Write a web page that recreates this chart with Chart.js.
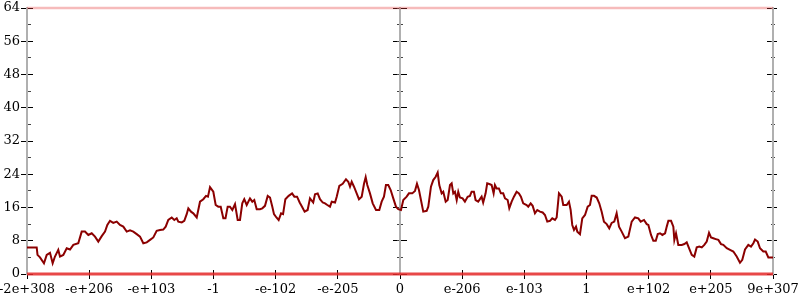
<!DOCTYPE html>
<html><head><meta charset="utf-8">
<script src="https://cdn.jsdelivr.net/npm/chart.js@4.4.0/dist/chart.umd.min.js"></script>
<style>html,body{margin:0;padding:0;background:#fff}#wrap{width:800px;height:300px}</style>
</head><body><div id="wrap"><canvas id="c" width="800" height="300" style="width:800px;height:300px"></canvas></div>
<script>
const xTickLabels = ['-2e+308','-e+206','-e+103','-1','-e-102','-e-205','0','e-206','e-103','1','e+102','e+205','9e+307'];
const xRange = [0, 1200];
const yRange = [0, 64];
const boundaryValues = [0, 64];
const seriesX = [0,15.6,16.9,20.9,27.3,31.7,37.0,41.3,45.0,50.3,53.1,58.4,63.9,69.2,74.5,82.5,88.0,93.3,98.6,104.1,109.4,114.7,120.2,125.5,129.2,133.5,138.8,144.3,149.6,154.9,160.4,165.7,171.0,176.5,181.8,187.1,192.6,197.9,203.2,208.6,213.9,219.2,223.1,227.3,232.8,237.0,240.8,243.4,248.9,253.0,256.9,259.5,263.8,267.5,273.0,278.3,283.6,287.9,291.1,294.4,299.7,303.5,307.7,311.6,315.8,319.3,322.8,326.5,330.3,334.6,338.9,342.6,346.3,349.5,353.4,358.7,362.4,365.6,369.5,374.8,378.5,382.8,387.2,390.9,394.6,397.3,401.2,404.8,408.7,411.9,415.6,420.9,426.4,430.1,434.4,438.6,442.4,446.6,451.4,455.2,460.4,463.3,467.6,471.3,475.7,479.4,483.1,487.4,490.2,495.5,498.2,502.4,507.8,513.1,516.8,519.6,522.3,526.0,530.3,534.0,538.4,542.1,544.8,547.4,551.7,556.1,561.4,566.7,570.5,574.2,577.4,581.1,585.0,589.2,593.5,597.2,601.6,605.3,610.7,614.4,619.7,624.1,627.3,630.5,633.7,637.4,642.9,645.5,649.8,653.5,657.4,660.6,663.2,667.0,669.6,673.5,676.7,680.4,683.1,685.7,688.4,691.2,693.7,696.4,700.7,704.4,708.8,712.5,715.2,718.9,721.6,725.8,731.3,733.8,737.7,740.3,744.6,747.4,750.6,752.7,755.4,759.1,762.3,766.0,768.9,773.2,775.8,779.6,783.3,787.6,791.3,794.5,798.2,803.7,806.3,810.2,813.4,817.1,820.8,825.1,829.5,833.2,836.9,841.3,844.9,849.3,852.0,855.7,860.1,862.6,868.1,871.8,874.5,877.1,879.9,883.1,885.2,889.5,893.2,897.6,901.9,905.6,908.3,912.0,916.4,920.5,924.4,928.1,932.5,936.6,940.5,944.7,948.5,952.3,956.6,961.9,967.3,972.7,978.0,983.3,987.2,992.5,996.9,999.5,1003.8,1007.5,1011.4,1014.6,1018.3,1022.0,1026.4,1029.1,1031.7,1036.0,1039.7,1041.3,1044.0,1047.7,1053.2,1057.4,1061.2,1064.9,1069.3,1073.4,1077.3,1081.5,1085.4,1089.5,1093.4,1097.1,1100.3,1104.0,1107.9,1112.1,1116.4,1120.1,1125.6,1130.9,1136.2,1141.6,1146.9,1150.6,1155.0,1160.3,1164.6,1168.4,1171.1,1175.4,1179.1,1184.4,1188.3,1192.5,1200];
const seriesY = [6.4,6.4,4.6,4.0,2.6,4.6,5.1,2.6,4.2,5.8,4.2,4.6,6.2,5.9,7.0,7.4,10.2,10.2,9.4,9.8,9.0,7.8,9.1,10.2,11.8,12.8,12.3,12.6,11.8,11.4,10.2,10.5,10.2,9.6,9.0,7.4,7.6,8.2,8.8,10.4,10.6,10.7,11.4,13.0,13.6,13.0,13.4,12.6,12.4,12.8,14.4,15.8,15.0,14.6,13.6,17.4,18.0,18.8,18.6,20.9,19.8,16.6,16.2,16.2,13.4,13.4,16.2,16.2,15.4,16.8,13.0,13.0,17.0,18.0,16.6,18.2,17.4,17.8,15.6,15.6,15.8,16.4,18.8,18.4,16.2,14.4,13.6,13.0,14.6,14.4,18.0,18.8,19.4,18.6,18.6,17.2,16.2,15.0,15.4,18.2,17.2,19.2,19.4,18.0,17.2,17.0,16.6,16.2,17.4,17.2,18.6,21.2,21.7,22.8,22.2,21.0,22.2,21.0,19.4,18.0,18.6,21.7,23.3,21.4,19.4,17.0,15.4,15.4,17.4,18.6,21.4,21.4,20.2,18.2,16.2,15.6,15.4,17.8,18.6,19.4,19.4,20.0,21.7,20.2,17.8,15.0,15.2,16.2,21.0,22.6,23.4,24.4,21.4,19.4,19.8,17.4,17.8,21.4,21.8,19.4,19.8,17.8,19.8,18.4,18.2,17.4,18.6,18.8,19.8,19.8,17.8,17.4,18.6,17.2,19.4,21.8,21.6,21.4,19.4,21.4,20.6,20.6,19.4,19.4,18.2,17.8,15.8,17.4,18.6,19.8,19.4,18.6,17.0,16.6,16.2,17.0,16.4,14.6,15.4,15.0,14.8,14.2,12.6,12.8,13.4,13.0,13.6,19.4,18.6,16.6,16.6,17.4,15.4,11.8,10.6,11.4,10.2,9.6,13.4,14.2,16.2,16.6,18.8,18.8,18.4,17.0,15.0,12.6,12.0,11.0,12.3,12.6,14.6,11.4,10.2,8.6,9.0,12.6,13.6,13.4,12.6,13.0,12.0,11.8,9.4,8.0,8.0,9.6,9.8,9.4,9.8,11.4,12.8,12.8,11.4,8.2,9.8,7.0,7.0,7.2,7.6,6.2,4.6,4.2,6.4,6.6,6.4,7.0,7.8,9.9,8.8,8.6,8.4,8.2,7.2,7.0,6.2,5.8,5.4,4.2,2.7,3.4,5.9,7.0,6.6,7.4,8.3,7.8,6.2,5.4,5.4,4.0,4.0];

const n = Math.min(seriesX.length, seriesY.length);
const linePoints = [];
for (let i = 0; i < n; i++) linePoints.push({x: seriesX[i], y: seriesY[i]});
const bottomLine = [{x: xRange[0], y: boundaryValues[0]}, {x: xRange[1], y: boundaryValues[0]}];
const topLine = [{x: xRange[0], y: boundaryValues[1]}, {x: xRange[1], y: boundaryValues[1]}];

const FONT = {family: "'DejaVu Serif', 'Liberation Serif', serif", size: 13};
function zeroPad(s){ s.paddingLeft = 0; s.paddingRight = 0; s.paddingTop = 0; s.paddingBottom = 0; }

function yTicks(pos, step, len, color, borderShow, z) {
  return {
    type: 'linear', position: pos, min: yRange[0], max: yRange[1], z: z || 0,
    ticks: {display: false, stepSize: step},
    grid: {display: true, drawOnChartArea: false, drawTicks: true, tickLength: len, tickColor: color, tickWidth: 1},
    border: {display: borderShow, color: '#b0b0b0', width: 2},
    afterFit: zeroPad
  };
}

const scales = {
  x: {
    type: 'linear', position: 'bottom', min: xRange[0], max: xRange[1], z: 1,
    ticks: {stepSize: 100, autoSkip: false, maxRotation: 0, color: '#000', font: FONT, padding: 3,
      callback: v => xTickLabels[Math.round(v / 100)] ?? ''},
    grid: {display: true, drawOnChartArea: false, drawTicks: true, tickLength: 5, tickColor: '#000', tickWidth: 1},
    border: {display: false},
    afterFit: s => { s.height = 26; zeroPad(s); }
  },
  xIn: {
    type: 'linear', position: {y: 0}, min: xRange[0], max: xRange[1], z: 1,
    ticks: {display: false, stepSize: 100},
    grid: {display: true, drawOnChartArea: false, drawTicks: true, tickLength: -4, tickColor: '#000', tickWidth: 1},
    border: {display: false},
    afterFit: zeroPad
  },
  y: {
    type: 'linear', position: 'left', min: yRange[0], max: yRange[1],
    ticks: {stepSize: 8, color: '#000', font: FONT, padding: 1},
    grid: {display: true, drawOnChartArea: false, drawTicks: true, tickLength: 6, tickColor: '#000', tickWidth: 1},
    border: {display: true, color: '#b0b0b0', width: 2},
    afterFit: s => { s.width = 27; zeroPad(s); }
  },
  yLmin: yTicks({x: xRange[0]}, 4, -4, '#444', false, 1),
  yLin: yTicks({x: xRange[0]}, 8, -6, '#000', false, 1),
  yMid: yTicks({x: 600}, 8, 6, '#000', true, 0),
  yMidMinL: yTicks({x: 600}, 4, 3, '#444', false, 1),
  yMidMinR: yTicks({x: 600}, 4, -3, '#444', false, 1),
  yMidR: yTicks({x: 600}, 8, -7, '#000', false, 1),
  yR: yTicks({x: xRange[1]}, 8, 5, '#000', true, 0),
  yRMinL: yTicks({x: xRange[1]}, 4, 2, '#444', false, 1),
  yRMinR: yTicks({x: xRange[1]}, 4, -2, '#444', false, 1),
  yRR: yTicks({x: xRange[1]}, 8, -4, '#000', false, 1)
};

new Chart(document.getElementById('c'), {
  type: 'line',
  data: {
    datasets: [
      {data: linePoints, borderColor: '#8b0000', borderWidth: 2, pointRadius: 0, tension: 0, fill: false, clip: false, order: 1},
      {data: bottomLine, borderColor: 'rgba(228,40,40,0.85)', borderWidth: 3, pointRadius: 0, fill: false, clip: false, order: 2},
      {data: topLine, borderColor: 'rgba(230,60,60,0.35)', borderWidth: 2.5, pointRadius: 0, fill: false, clip: false, order: 2}
    ]
  },
  options: {
    responsive: false, animation: false, devicePixelRatio: 1,
    layout: {padding: {top: 8, right: 27, left: 0, bottom: 0}},
    plugins: {legend: {display: false}, tooltip: {enabled: false}, title: {display: false}},
    scales: scales
  }
});
</script>
</body></html>
